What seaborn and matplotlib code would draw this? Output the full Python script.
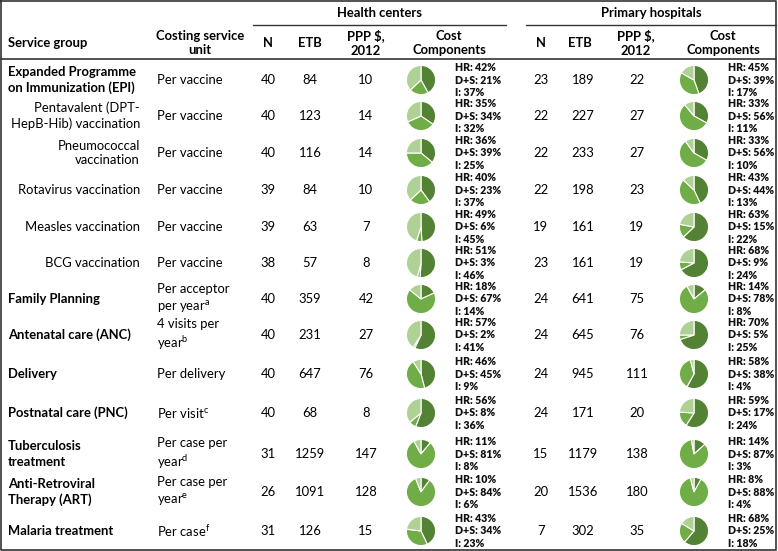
import matplotlib

matplotlib.use("Agg")
import matplotlib.pyplot as plt  # noqa: E402
import seaborn as sns  # noqa: E402

sns.set_theme(style="white")
plt.rcParams["font.family"] = ["Lato", "DejaVu Sans"]
plt.rcParams["mathtext.fontset"] = "custom"
plt.rcParams["mathtext.rm"] = "Lato"

# --------------------------------------------------------------------------- #
# Data                                                                        #
# --------------------------------------------------------------------------- #
services = [
    "Expanded Programme\non Immunization (EPI)",
    "Pentavalent (DPT-\nHepB-Hib) vaccination",
    "Pneumococcal\nvaccination",
    "Rotavirus vaccination",
    "Measles vaccination",
    "BCG vaccination",
    "Family Planning",
    "Antenatal care (ANC)",
    "Delivery",
    "Postnatal care (PNC)",
    "Tuberculosis\ntreatment",
    "Anti-Retroviral\nTherapy (ART)",
    "Malaria treatment",
]
is_group = [True, False, False, False, False, False,
            True, True, True, True, True, True, True]
units = [
    "Per vaccine", "Per vaccine", "Per vaccine", "Per vaccine", "Per vaccine", "Per vaccine",
    "Per acceptor\nper year$^{\\mathrm{a}}$",
    "4 visits per\nyear$^{\\mathrm{b}}$",
    "Per delivery",
    "Per visit$^{\\mathrm{c}}$",
    "Per case per\nyear$^{\\mathrm{d}}$",
    "Per case per\nyear$^{\\mathrm{e}}$",
    "Per case$^{\\mathrm{f}}$",
]

hc_n = [40, 40, 40, 39, 39, 38, 40, 40, 40, 40, 31, 26, 31]
hc_etb = [84, 123, 116, 84, 63, 57, 359, 231, 647, 68, 1259, 1091, 126]
hc_ppp = [10, 14, 14, 10, 7, 8, 42, 27, 76, 8, 147, 128, 15]
hc_hr = [42, 35, 36, 40, 49, 51, 18, 57, 46, 56, 11, 10, 43]
hc_ds = [21, 34, 39, 23, 6, 3, 67, 2, 45, 8, 81, 84, 34]
hc_i = [37, 32, 25, 37, 45, 46, 14, 41, 9, 36, 8, 6, 23]

ph_n = [23, 22, 22, 22, 19, 23, 24, 24, 24, 24, 15, 20, 7]
ph_etb = [189, 227, 233, 198, 161, 161, 641, 645, 945, 171, 1179, 1536, 302]
ph_ppp = [22, 27, 27, 23, 19, 19, 75, 76, 111, 20, 138, 180, 35]
ph_hr = [45, 33, 33, 43, 63, 68, 14, 70, 58, 59, 14, 8, 68]
ph_ds = [39, 56, 56, 44, 15, 9, 78, 5, 38, 17, 87, 88, 25]
ph_i = [17, 11, 10, 13, 22, 24, 8, 25, 4, 24, 3, 4, 18]

COLORS = ["#548235", "#70AD47", "#B0D196"]  # HR, D+S, I

# --------------------------------------------------------------------------- #
# Layout (pixel space, y measured from the top)                               #
# --------------------------------------------------------------------------- #
W, H = 778, 551
row_y = [80, 116, 153, 190, 227, 263, 299, 335, 374, 413, 454, 492, 531]
FS = 9.4
FS_SMALL = 7.6


def Y(y):
    return H - y


fig = plt.figure(figsize=(W / 100, H / 100), dpi=100)
ax = fig.add_axes([0, 0, 1, 1])

txt = dict(fontsize=FS, color="black", va="center")
bold = dict(txt, fontweight="bold")

# header
ax.text(380, Y(13), "Health centers", ha="center", **bold)
ax.text(651, Y(13), "Primary hospitals", ha="center", **bold)
ax.plot([253, 506], [Y(25), Y(25)], color="#333333", lw=1)
ax.plot([526, 776], [Y(25), Y(25)], color="#333333", lw=1)
ax.text(8, Y(43), "Service group", ha="left", **bold)
ax.text(200, Y(43), "Costing service\nunit", ha="center", linespacing=1.3, **bold)
for xn, xe, xp, xc in [(268, 310, 366, 449), (541, 580, 636, 723)]:
    ax.text(xn, Y(43), "N", ha="center", **bold)
    ax.text(xe, Y(43), "ETB", ha="center", **bold)
    ax.text(xp, Y(43), "PPP $,\n2012", ha="center", linespacing=1.3, **bold)
    ax.text(xc, Y(43), "Cost\nComponents", ha="center", linespacing=1.3, **bold)
ax.plot([1, 776], [Y(59), Y(59)], color="#333333", lw=1.2)

# body
for i, y in enumerate(row_y):
    if is_group[i]:
        ax.text(8, Y(y), services[i], ha="left", linespacing=1.3, **bold)
    else:
        ax.text(140, Y(y), services[i], ha="right", linespacing=1.3, **txt)
    ax.text(157, Y(y), units[i], ha="left", linespacing=1.3, **txt)

    blocks = [
        (hc_n, hc_etb, hc_ppp, (hc_hr, hc_ds, hc_i), 268, 310, 366, 421, 455),
        (ph_n, ph_etb, ph_ppp, (ph_hr, ph_ds, ph_i), 541, 583, 637, 694, 728),
    ]
    for n, etb, ppp, comp, xn, xe, xp, xpie, xlab in blocks:
        ax.text(xn, Y(y), str(n[i]), ha="center", **txt)
        ax.text(xe, Y(y), str(etb[i]), ha="center", **txt)
        ax.text(xp, Y(y), str(ppp[i]), ha="center", **txt)
        vals = [comp[0][i], comp[1][i], comp[2][i]]
        ax.pie(vals, center=(xpie, Y(y)), radius=14.6, startangle=90,
               counterclock=False, colors=COLORS,
               wedgeprops=dict(edgecolor="white", linewidth=0.8))
        ax.text(xlab, Y(y), f"HR: {vals[0]}%\nD+S: {vals[1]}%\nI: {vals[2]}%",
                ha="left", va="center", fontsize=FS_SMALL, fontweight="heavy",
                linespacing=1.12, color="#111111")

# outer frame
ax.plot([1, 776, 776, 1, 1], [Y(1), Y(1), Y(550), Y(550), Y(1)],
        color="#333333", lw=1.2)

ax.set_xlim(0, W)
ax.set_ylim(0, H)
ax.set_aspect("auto")
ax.axis("off")

fig.savefig("out.png", dpi=100)
plt.close(fig)
